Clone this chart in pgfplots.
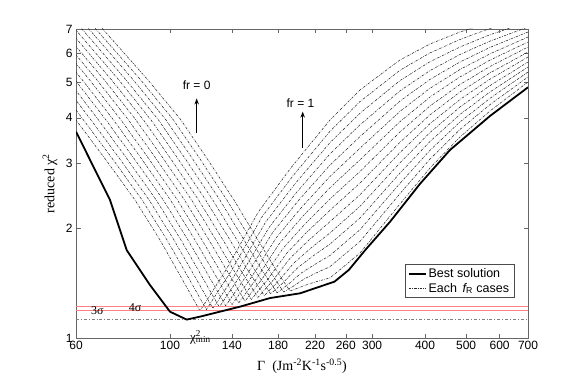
\documentclass[border=0pt]{standalone}
\usepackage{fontspec}
\setmainfont{Liberation Sans}
\newfontfamily\tnr{Liberation Serif}
\usepackage{graphicx}
\usepackage{pgfplots}
\pgfplotsset{compat=1.18}
\usetikzlibrary{arrows.meta}

\pgfplotsset{fam/.style={black!85, line width=0.55pt, dash pattern=on 2.4pt off 1.2pt on 0.6pt off 1.2pt}}

\begin{document}
\begin{tikzpicture}
\begin{axis}[
    at={(0pt,0pt)}, anchor=south west,
    scale only axis, width=452pt, height=309pt,
    xmode=log, ymode=log,
    xmin=60, xmax=700, ymin=1, ymax=7,
    xtick={60,100,140,180,220,260,300,400,500,600,700},
    xticklabels={60,100,140,180,220,260,300,400,500,600,700},
    ytick={1,2,3,4,5,6,7},
    yticklabels={1,2,3,4,5,6,7},
    xminorticks=false, yminorticks=false,
    tick align=inside, major tick length=4.5pt,
    axis line style={black!60, line width=0.6pt},
    every tick/.style={black!60, line width=0.6pt},
    tick label style={font=\fontsize{12}{14}\selectfont},
    clip mode=individual,
    legend style={at={(0.9697,0.1304)}, anchor=south east, draw=black!70, fill=white,
        font=\fontsize{12.5}{15}\selectfont, inner xsep=3pt, inner ysep=2pt, cells={anchor=west}},
    legend image code/.code={\draw[#1] (0pt,0pt) -- (17pt,0pt);},
]
\addlegendimage{black, line width=1.8pt}
\addlegendentry{Best solution}
\addlegendimage{fam}
\addlegendentry{Each \,{\itshape f}\textsubscript{R} cases}

% one curve per roughness fraction, fr = 0 first
\addplot[fam, forget plot] coordinates {(60.33,8.40) (88.73,5.077) (106.16,3.947) (122.94,3.068) (141.59,2.385) (161.31,1.854) (177.89,1.535) (191.96,1.345) (200.49,1.369) (211.68,1.403) (223.50,1.430) (238.6,1.460) (280.8,1.707) (349.0,2.326) (410.8,2.917) (483.5,3.546) (569.3,4.177) (700,5.014)};
\addplot[fam, forget plot] coordinates {(58.17,8.40) (85.28,5.077) (101.92,3.947) (118.15,3.068) (136.23,2.385) (155.29,1.854) (171.16,1.535) (185.39,1.337) (195.01,1.383) (207.69,1.452) (221.20,1.506) (238.6,1.567) (280.8,1.837) (349.0,2.482) (410.8,3.085) (483.5,3.718) (569.3,4.348) (700,5.174)};
\addplot[fam, forget plot] coordinates {(56.09,8.40) (81.96,5.077) (97.85,3.947) (113.56,3.068) (131.15,2.385) (149.50,1.854) (164.77,1.535) (178.96,1.329) (189.57,1.398) (203.67,1.503) (218.81,1.585) (238.6,1.682) (280.8,1.978) (349.0,2.648) (410.8,3.261) (483.5,3.898) (569.3,4.524) (700,5.339)};
\addplot[fam, forget plot] coordinates {(54.08,8.40) (78.77,5.077) (93.94,3.947) (109.14,3.068) (126.19,2.385) (143.92,1.854) (158.54,1.535) (172.84,1.320) (184.39,1.412) (199.84,1.554) (216.57,1.669) (238.6,1.807) (280.8,2.128) (349.0,2.824) (410.8,3.448) (483.5,4.086) (569.3,4.710) (700,5.510)};
\addplot[fam, forget plot] coordinates {(52.12,8.40) (75.75,5.077) (90.19,3.947) (104.95,3.068) (121.41,2.385) (138.55,1.854) (152.53,1.535) (166.93,1.305) (179.25,1.421) (196.07,1.603) (214.34,1.756) (238.6,1.938) (280.8,2.291) (349.0,3.013) (410.8,3.646) (483.5,4.283) (569.3,4.901) (700,5.686)};
\addplot[fam, forget plot] coordinates {(50.26,8.40) (72.81,5.077) (86.59,3.947) (100.87,3.068) (116.81,2.385) (133.38,1.854) (146.76,1.535) (161.23,1.291) (174.35,1.430) (192.27,1.655) (212.14,1.847) (238.6,2.081) (280.8,2.464) (349.0,3.214) (410.8,3.856) (483.5,4.490) (569.3,5.103) (700,5.868)};
\addplot[fam, forget plot] coordinates {(48.46,8.40) (69.98,5.077) (83.13,3.947) (96.95,3.068) (112.45,2.385) (128.40,1.854) (141.29,1.535) (155.63,1.275) (169.49,1.439) (188.65,1.706) (209.85,1.942) (238.6,2.235) (280.8,2.653) (349.0,3.429) (410.8,4.075) (483.5,4.707) (569.3,5.309) (700,6.055)};
\addplot[fam, forget plot] coordinates {(46.73,8.40) (67.25,5.077) (79.81,3.947) (93.18,3.068) (108.19,2.385) (123.61,1.854) (135.94,1.535) (150.31,1.261) (164.86,1.449) (185.09,1.762) (207.69,2.042) (238.6,2.400) (280.8,2.853) (349.0,3.660) (410.8,4.310) (483.5,4.935) (569.3,5.527) (700,6.249)};
\addplot[fam, forget plot] coordinates {(45.06,8.40) (64.64,5.077) (76.62,3.947) (89.55,3.068) (104.10,2.385) (118.99,1.854) (130.79,1.535) (145.18,1.246) (160.35,1.458) (181.50,1.819) (205.56,2.149) (238.6,2.577) (280.8,3.070) (349.0,3.905) (410.8,4.559) (483.5,5.174) (569.3,5.754) (700,6.449)};
\addplot[fam, forget plot] coordinates {(43.45,8.40) (62.12,5.077) (73.57,3.947) (86.07,3.068) (100.22,2.385) (114.55,1.854) (125.91,1.535) (140.14,1.235) (155.88,1.470) (178.08,1.879) (203.34,2.262) (238.6,2.766) (280.8,3.304) (349.0,4.166) (410.8,4.818) (483.5,5.424) (569.3,5.987) (700,6.655)};
\addplot[fam, forget plot] coordinates {(59.71,5.077) (70.63,3.947) (82.72,3.068) (96.42,2.385) (110.27,1.854) (121.14,1.535) (135.35,1.225) (151.62,1.483) (174.63,1.942) (201.25,2.381) (238.6,2.971) (280.8,3.555) (349.0,4.445) (410.8,5.096) (483.5,5.686) (569.3,6.234) (700,6.868)};
\addplot[fam, forget plot] coordinates {(57.42,5.077) (67.81,3.947) (79.55,3.068) (92.77,2.385) (106.16,1.854) (116.56,1.535) (130.72,1.215) (147.40,1.496) (171.34,2.006) (199.18,2.505) (238.6,3.188) (280.8,3.827) (349.0,4.740) (410.8,5.387) (483.5,5.961) (569.3,6.486) (700,7.088)};
\addplot[fam, forget plot] coordinates {(55.18,5.077) (65.09,3.947) (76.46,3.068) (89.26,2.385) (102.20,1.854) (112.15,1.535) (126.26,1.205) (143.37,1.509) (168.12,2.074) (197.14,2.638) (238.6,3.423) (280.8,4.117) (349.0,5.058) (410.8,5.697) (483.5,6.249) (569.3,6.752) (700,7.314)};
\addplot[fam, forget plot] coordinates {(53.04,5.077) (62.50,3.947) (73.49,3.068) (85.93,2.385) (98.38,1.854) (107.96,1.535) (121.88,1.196) (139.38,1.523) (164.86,2.144) (195.01,2.775) (238.6,3.676) (280.8,4.431) (349.0,5.397) (410.8,6.021) (483.5,6.551) (569.3,7.025) (700,7.549)};
\addplot[fam, forget plot] coordinates {(50.97,5.077) (60.00,3.947) (70.63,3.068) (82.68,2.385) (94.71,1.854) (103.87,1.535) (117.70,1.186) (135.57,1.535) (161.75,2.215) (193.00,2.921) (238.6,3.947) (280.8,4.767) (349.0,5.758) (410.8,6.369) (483.5,6.868) (569.3,7.314) (700,7.790)};

% confidence levels and minimum
\addplot[red!50, line width=0.7pt, forget plot] coordinates {(60,1.223) (700,1.223)};
\addplot[red!50, line width=0.7pt, forget plot] coordinates {(60,1.193) (700,1.193)};
\addplot[black!50, line width=0.6pt, dash pattern=on 3pt off 2pt on 0.8pt off 2pt, forget plot] coordinates {(60,1.123) (700,1.123)};

% best solution
\addplot[black, line width=1.8pt, forget plot] coordinates {(60,3.667) (72.18,2.385) (79.03,1.740) (89.70,1.396) (100,1.180) (109.5,1.123) (117.7,1.144) (146.3,1.218) (172.2,1.286) (202.8,1.325) (244.5,1.426) (264.3,1.535) (289,1.740) (330.8,2.080) (389,2.638) (458,3.267) (569.3,4.047) (700,4.849)};

\node[font=\fontsize{12}{14}\selectfont] at (axis cs:115.6,4.92) {fr = 0};
\draw[-{Stealth[length=6pt,width=4.5pt]}, line width=1.1pt] (axis cs:115.6,3.63) -- (axis cs:115.6,4.52);
\node[font=\fontsize{12}{14}\selectfont] at (axis cs:203.2,4.40) {fr = 1};
\draw[-{Stealth[length=6pt,width=4.5pt]}, line width=1.1pt] (axis cs:205.7,3.31) -- (axis cs:205.7,4.16);

\node[font=\tnr\fontsize{12}{14}\selectfont] at (axis cs:67.4,1.186) {3σ};
\node[font=\tnr\fontsize{12}{14}\selectfont] at (axis cs:82.7,1.208) {4σ};
\node[font=\tnr\fontsize{13}{15}\selectfont, anchor=base west, inner sep=0pt] at (axis cs:111.5,0.981) {χ\rlap{\textsuperscript{2}}\textsubscript{min}};
\end{axis}
% axis labels, placed in pt from the axis' lower left corner
\node[font=\tnr\fontsize{14}{16}\selectfont] at (226pt,-28pt) {Γ\ \ (Jm\textsuperscript{-2}K\textsuperscript{-1}s\textsuperscript{-0.5})};
\node[font=\tnr\fontsize{14}{16}\selectfont, inner sep=0pt] at (-26pt,154.5pt) {\rotatebox{90}{reduced χ\textsuperscript{2}}};
\pgfresetboundingbox
\path[use as bounding box] (-76pt,-44pt) rectangle (508pt,338pt);
\end{tikzpicture}
\end{document}
